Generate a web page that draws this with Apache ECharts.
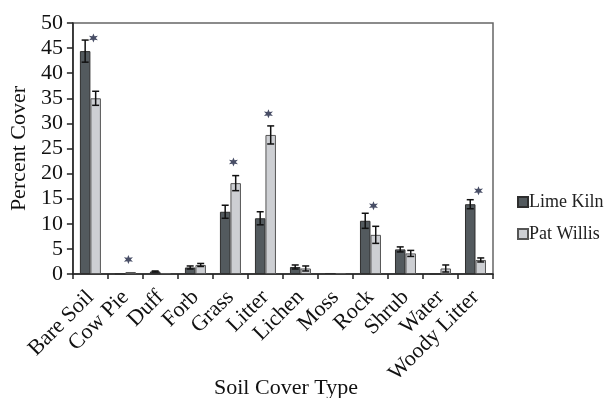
<!DOCTYPE html>
<html>
<head>
<meta charset="utf-8">
<script src="https://cdn.jsdelivr.net/npm/echarts@6/dist/echarts.min.js"></script>
<style>
html,body{margin:0;padding:0;background:#fff;}
#chart{width:612px;height:398px;}
</style>
</head>
<body>
<div id="chart"></div>
<script>
const categories = ['Bare Soil','Cow Pie','Duff','Forb','Grass','Litter','Lichen','Moss','Rock','Shrub','Water','Woody Litter'];
const limeKiln    = [44.4, 0,   0.5, 1.3, 12.4, 11.1, 1.4, 0.2, 10.6, 4.9, 0,   13.9];
const patWillis   = [35.0, 0.4, 0.2, 1.8, 18.1, 27.7, 1.1, 0.2, 7.8,  4.1, 1.1, 2.8];
const limeKilnErr = [2.2,  0,   0.1, 0.3, 1.3,  1.3,  0.4, 0,   1.5,  0.5, 0,   0.9];
const patWillisErr= [1.4,  0,   0,   0.3, 1.5,  1.8,  0.5, 0,   1.7,  0.6, 0.7, 0.4];
const starMarks   = [47.0, 2.9, null, null, 22.3, 31.9, null, null, 13.6, null, null, 16.6];
const yTicks = {min: 0, max: 50, interval: 5};

const FONT = '"Liberation Serif", "Times New Roman", serif';
const chart = echarts.init(document.getElementById('chart'));

function errData(vals, errs) {
  return vals.map((v, i) => errs[i] > 0 ? [i, v - errs[i], v + errs[i]] : null).filter(d => d);
}
function errRender(sign) {
  return function (params, api) {
    const x = api.value(0);
    const lo = api.coord([x, api.value(1)]);
    const hi = api.coord([x, api.value(2)]);
    const band = api.size([1, 0])[0];
    const off = sign * band * 0.6 / 4;
    const cx = lo[0] + off;
    const cap = 3.5;
    const st = {stroke: '#111', lineWidth: 1.5};
    return {type: 'group', children: [
      {type: 'line', shape: {x1: cx, y1: lo[1], x2: cx, y2: hi[1]}, style: st},
      {type: 'line', shape: {x1: cx - cap, y1: lo[1], x2: cx + cap, y2: lo[1]}, style: st},
      {type: 'line', shape: {x1: cx - cap, y1: hi[1], x2: cx + cap, y2: hi[1]}, style: st}
    ]};
  };
}

const starPath = 'path://M10,0 L12.25,6.1 L18.66,5 L14.5,10 L18.66,15 L12.25,13.9 L10,20 L7.75,13.9 L1.34,15 L5.5,10 L1.34,5 L7.75,6.1 Z';

chart.setOption({
  animation: false,
  backgroundColor: '#fff',
  grid: {left: 68, right: 119, top: 23, bottom: 124, show: true, borderColor: '#666', borderWidth: 1.5, backgroundColor: 'transparent'},
  legend: {
    data: ['Lime Kiln', 'Pat Willis'],
    orient: 'vertical', left: 517, top: 193,
    itemWidth: 10, itemHeight: 10, itemGap: 14, padding: 0,
    icon: 'rect',
    textStyle: {fontFamily: FONT, fontSize: 18, color: '#222', padding: [0, 0, 0, -4]}
  },
  xAxis: {
    type: 'category', data: categories, boundaryGap: true,
    axisLine: {lineStyle: {color: '#222', width: 1.5}},
    axisTick: {show: true, length: 5, alignWithLabel: false, lineStyle: {color: '#222', width: 1.5}},
    axisLabel: {interval: 0, rotate: 45, margin: 20, fontFamily: FONT, fontSize: 22, color: '#111'}
  },
  yAxis: {
    type: 'value', min: yTicks.min, max: yTicks.max, interval: yTicks.interval,
    name: 'Percent Cover', nameLocation: 'middle', nameGap: 36, nameRotate: 90,
    nameTextStyle: {fontFamily: FONT, fontSize: 22, color: '#111'},
    axisLine: {show: true, lineStyle: {color: '#222', width: 1.5}},
    axisTick: {show: true, length: 6, lineStyle: {color: '#222', width: 1.5}},
    axisLabel: {margin: 10, fontFamily: FONT, fontSize: 22, color: '#111'},
    splitLine: {show: false}
  },
  graphic: [{
    type: 'text', left: 214, top: 377,
    style: {text: 'Soil Cover Type', font: '22px ' + FONT, fill: '#111'}
  }],
  series: [
    {name: 'Lime Kiln', type: 'bar', data: limeKiln, barGap: '0%', barCategoryGap: '40%',
     itemStyle: {color: '#535a5e', borderColor: '#2e2e2e', borderWidth: 1}},
    {name: 'Pat Willis', type: 'bar', data: patWillis,
     itemStyle: {color: '#cdcfd3', borderColor: '#555', borderWidth: 1}},
    {type: 'custom', renderItem: errRender(-1), data: errData(limeKiln, limeKilnErr), z: 5},
    {type: 'custom', renderItem: errRender(1), data: errData(patWillis, patWillisErr), z: 5},
    {type: 'scatter', data: starMarks.map(v => v == null ? '-' : v),
     symbol: starPath, symbolSize: 9, symbolOffset: [3, 0],
     itemStyle: {color: '#1a2240'}, z: 6}
  ]
});
</script>
</body>
</html>
